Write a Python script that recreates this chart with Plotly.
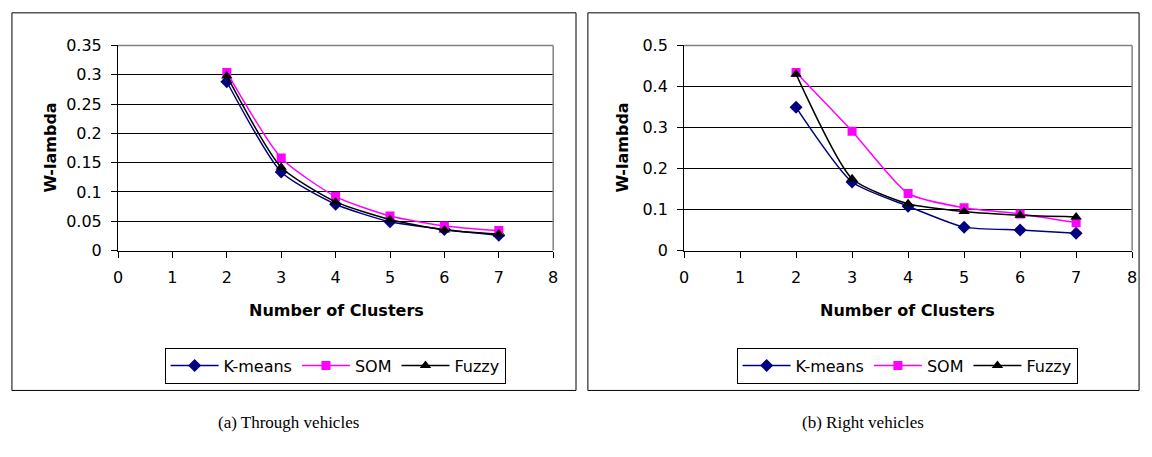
import plotly.graph_objects as go

clusters = [2, 3, 4, 5, 6, 7]
through_kmeans = [0.288, 0.134, 0.079, 0.049, 0.036, 0.026]
through_som = [0.304, 0.158, 0.092, 0.059, 0.042, 0.034]
through_fuzzy = [0.298, 0.142, 0.083, 0.053, 0.035, 0.028]

right_kmeans = [0.349, 0.167, 0.108, 0.057, 0.050, 0.042]
right_som = [0.434, 0.291, 0.139, 0.104, 0.089, 0.068]
right_fuzzy = [0.430, 0.175, 0.114, 0.095, 0.086, 0.082]

x_ticks = [0, 1, 2, 3, 4, 5, 6, 7, 8]
y_ticks_a = [0, 0.05, 0.1, 0.15, 0.2, 0.25, 0.3, 0.35]
y_ticks_b = [0, 0.1, 0.2, 0.3, 0.4, 0.5]

W, H = 1152, 457
def px(x): return x / W
def py(y): return 1 - y / H

series_style = {
    "K-means": dict(color="#000080", symbol="diamond", size=10),
    "SOM": dict(color="#FF00FF", symbol="square", size=9),
    "Fuzzy": dict(color="#000000", symbol="triangle-up", size=10),
}

fig = go.Figure()
for name, vals in [("K-means", through_kmeans), ("SOM", through_som), ("Fuzzy", through_fuzzy)]:
    s = series_style[name]
    fig.add_trace(go.Scatter(x=clusters, y=vals, name=name, mode="lines+markers",
                             line=dict(color=s["color"], width=1.5, shape="spline", smoothing=0.6),
                             marker=dict(symbol=s["symbol"], size=s["size"], color=s["color"]),
                             xaxis="x", yaxis="y", legend="legend"))
for name, vals in [("K-means", right_kmeans), ("SOM", right_som), ("Fuzzy", right_fuzzy)]:
    s = series_style[name]
    fig.add_trace(go.Scatter(x=clusters, y=vals, name=name, mode="lines+markers",
                             line=dict(color=s["color"], width=1.5, shape="spline", smoothing=0.6),
                             marker=dict(symbol=s["symbol"], size=s["size"], color=s["color"]),
                             xaxis="x2", yaxis="y2", legend="legend2"))

font_family = "DejaVu Sans, Arial, sans-serif"
tickfont = dict(family=font_family, size=16, color="black")

xcommon = dict(range=[0, 8], tickvals=x_ticks, showgrid=False, zeroline=False,
               showline=True, linecolor="black", linewidth=1, ticks="outside",
               ticklen=6, tickcolor="black", tickfont=tickfont, fixedrange=True,
               ticklabelstandoff=6)
ycommon = dict(showgrid=True, gridcolor="black", gridwidth=1, zeroline=False,
               showline=True, linecolor="black", linewidth=1, ticks="outside",
               ticklen=6, tickcolor="black", tickfont=tickfont, fixedrange=True,
               ticklabelstandoff=6)

legend_common = dict(orientation="h", yanchor="middle", bordercolor="black", borderwidth=1,
                     bgcolor="white", font=dict(family=font_family, size=16, color="black"),
                     itemwidth=48, tracegroupgap=0)

fig.update_layout(
    width=W, height=H, margin=dict(l=0, r=0, t=0, b=0),
    paper_bgcolor="white", plot_bgcolor="white",
    xaxis=dict(domain=[px(114), px(553)], anchor="y", **xcommon),
    yaxis=dict(domain=[py(252), py(38)], anchor="x", range=[0, 0.35], tickvals=y_ticks_a,
               ticktext=["0", "0.05", "0.1", "0.15", "0.2", "0.25", "0.3", "0.35"], **ycommon),
    xaxis2=dict(domain=[px(685), px(1137)], anchor="y2", **xcommon),
    yaxis2=dict(domain=[py(252), py(38)], anchor="x2", range=[0, 0.5], tickvals=y_ticks_b,
                ticktext=["0", "0.1", "0.2", "0.3", "0.4", "0.5"], **ycommon),
    legend=dict(x=px(333), xanchor="center", y=py(372), **legend_common),
    legend2=dict(x=px(910), xanchor="center", y=py(372), **legend_common),
    showlegend=True,
)

shapes = []
for x0, x1 in [(7, 576), (588, 1144)]:
    shapes.append(dict(type="rect", xref="paper", yref="paper", x0=px(x0), x1=px(x1),
                       y0=py(398), y1=py(4), line=dict(color="black", width=1), layer="below"))
for xa, ya in [("x", "y"), ("x2", "y2")]:
    shapes.append(dict(type="line", xref=f"{xa} domain", yref=f"{ya} domain", x0=0, x1=1, y0=1, y1=1,
                       line=dict(color="#808080", width=1.5)))
    shapes.append(dict(type="line", xref=f"{xa} domain", yref=f"{ya} domain", x0=1, x1=1, y0=0, y1=1,
                       line=dict(color="#808080", width=1.5)))
fig.update_layout(shapes=shapes)

annotations = []
for cx in [334, 910]:
    annotations.append(dict(text="<b>Number of Clusters</b>", xref="paper", yref="paper",
                            x=px(cx), y=py(315), xanchor="center", yanchor="middle", showarrow=False,
                            font=dict(family=font_family, size=16, color="black")))
for cx in [46, 623]:
    annotations.append(dict(text="<b>W-lambda</b>", xref="paper", yref="paper", textangle=-90,
                            x=px(cx), y=py(145), xanchor="center", yanchor="middle", showarrow=False,
                            font=dict(family=font_family, size=16, color="black")))
serif = "Liberation Serif, Times New Roman, serif"
annotations.append(dict(text="(a) Through vehicles", xref="paper", yref="paper", x=px(286), y=py(431),
                        xanchor="center", yanchor="middle", showarrow=False,
                        font=dict(family=serif, size=17, color="black")))
annotations.append(dict(text="(b) Right vehicles", xref="paper", yref="paper", x=px(866), y=py(431),
                        xanchor="center", yanchor="middle", showarrow=False,
                        font=dict(family=serif, size=17, color="black")))
fig.update_layout(annotations=annotations)

fig.write_html("out.html")
